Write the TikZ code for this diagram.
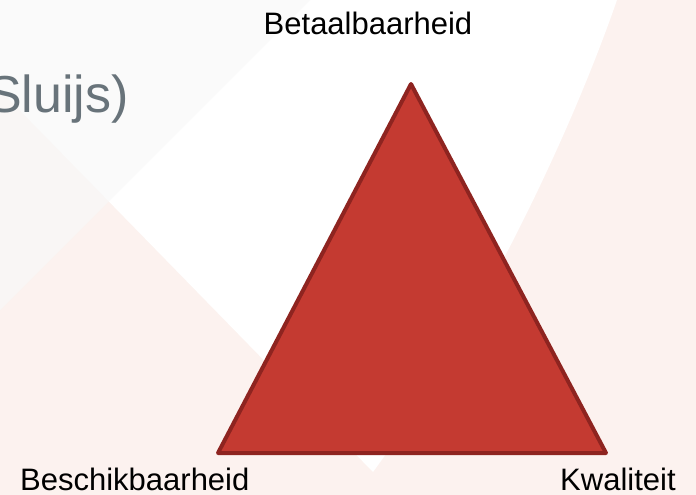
\documentclass[tikz,border=0pt]{standalone}
\usepackage{fontspec}
\setmainfont{Liberation Sans}
\usepackage{tikz}
\usetikzlibrary{positioning, calc}
\definecolor{bgpink}{RGB}{252, 242, 239}
\definecolor{bggray}{RGB}{248, 248, 248}
\definecolor{titlegray}{RGB}{104, 115, 122}
\definecolor{trifill}{RGB}{196, 58, 49}
\definecolor{triedge}{RGB}{142, 36, 32}

\begin{document}
\begin{tikzpicture}[
        x=1pt, y=-1pt,
        corner/.style={inner sep=0pt, anchor=base, font=\fontsize{31}{36}\selectfont, text=black},
        title/.style={inner sep=0pt, anchor=base east, font=\fontsize{52}{60}\selectfont, text=titlegray},
        triangle/.style={fill=trifill, draw=triedge, line width=4pt, line join=round}
    ]
        \useasboundingbox (0,0) rectangle (696,495);
        \clip (0,0) rectangle (696,495);

        % Background
        \fill[bgpink] (0,0) rectangle (696,495);
        \fill[white] (0,0) -- (617,0) .. controls (565,150) and (470,340) .. (373,472) -- (0,90) -- cycle;
        \fill[bggray, opacity=0.7] (0,0) -- (310,0) -- (0,310) -- cycle;

        % Title (cut off)
        \node[title] (title) at (129,112) {Sluijs)};

        % Triangle
        \coordinate (top) at (411,84);
        \coordinate (left) at (218,453);
        \coordinate (right) at (606,453);
        \draw[triangle] (top) -- (left) -- (right) -- cycle;

        % Labels
        \node[corner] (betaal) at (368,35) {Betaalbaarheid};
        \node[corner, anchor=base west] (beschik) at (20,490) {Beschikbaarheid};
        \node[corner, anchor=base west] (kwal) at (560,490) {Kwaliteit};

    \end{tikzpicture}
\end{document}
